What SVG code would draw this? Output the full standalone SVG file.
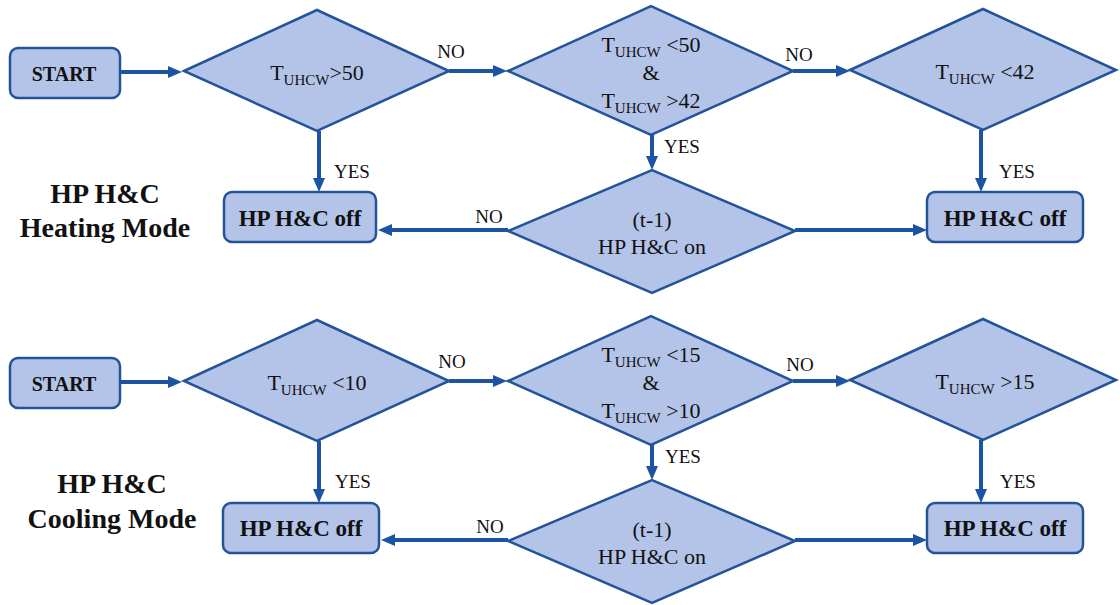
<svg xmlns="http://www.w3.org/2000/svg" width="1120" height="605" viewBox="0 0 1120 605">
  <defs>
    <marker id="arrow" markerUnits="userSpaceOnUse" markerWidth="14" markerHeight="12" refX="4" refY="6" orient="auto">
      <path d="M0,0 L14,6 L0,12 z" fill="#1c54a3"/>
    </marker>
    <style>
      .shape { fill: #b4c4e8; stroke: #23549a; stroke-width: 2.5; }
      .edge { fill: none; stroke: #1c54a3; stroke-width: 4; marker-end: url(#arrow); }
      .cond { font-family: "Liberation Serif", serif; font-size: 22px; text-anchor: middle; fill: #111; }
      .sub { font-size: 15px; }
      .box { font-family: "Liberation Serif", serif; font-size: 23px; font-weight: bold; text-anchor: middle; fill: #111; }
      .start { font-family: "Liberation Serif", serif; font-size: 20px; font-weight: bold; text-anchor: middle; fill: #111; }
      .title { font-family: "Liberation Serif", serif; font-size: 28px; font-weight: bold; text-anchor: middle; fill: #111; }
      .lbl { font-family: "Liberation Serif", serif; font-size: 19px; fill: #111; }
      .mid { text-anchor: middle; }
    </style>
  </defs>

  <!-- Heating mode -->
  <g id="heating-title">
    <text class="title" x="105" y="203">HP H&amp;C</text>
    <text class="title" x="105" y="237">Heating Mode</text>
  </g>
  <g id="h-start">
    <rect class="shape" x="10" y="48" width="110" height="50" rx="8"/>
    <text class="start" x="64" y="81">START</text>
  </g>
  <g id="h-check-high">
    <polygon class="shape" points="184,71 317,10 449,71 317,131"/>
    <text class="cond" x="317" y="80">T<tspan class="sub" dy="5">UHCW</tspan><tspan dy="-5">&gt;50</tspan></text>
  </g>
  <g id="h-check-band">
    <polygon class="shape" points="508,71 651,6 793,71 651,135"/>
    <text class="cond" x="651" y="52">T<tspan class="sub" dy="5">UHCW</tspan><tspan dy="-5"> &lt;50</tspan></text>
    <text class="cond" x="651" y="80">&amp;</text>
    <text class="cond" x="651" y="108">T<tspan class="sub" dy="5">UHCW</tspan><tspan dy="-5"> &gt;42</tspan></text>
  </g>
  <g id="h-check-low">
    <polygon class="shape" points="850,70 983,9 1116,70 983,130"/>
    <text class="cond" x="985" y="79">T<tspan class="sub" dy="5">UHCW</tspan><tspan dy="-5"> &lt;42</tspan></text>
  </g>
  <g id="h-prev-state">
    <polygon class="shape" points="508,231 652,170 795,231 652,293"/>
    <text class="cond" x="652" y="227">(t-1)</text>
    <text class="cond" x="652" y="254">HP H&amp;C on</text>
  </g>
  <g id="h-off-left">
    <rect class="shape" x="224" y="192" width="152" height="50" rx="8"/>
    <text class="box" x="300" y="226">HP H&amp;C off</text>
  </g>
  <g id="h-off-right">
    <rect class="shape" x="927" y="192" width="156" height="50" rx="8"/>
    <text class="box" x="1005" y="226">HP H&amp;C off</text>
  </g>

  <!-- Cooling mode -->
  <g id="cooling-title">
    <text class="title" x="112" y="493">HP H&amp;C</text>
    <text class="title" x="112" y="528">Cooling Mode</text>
  </g>
  <g id="c-start">
    <rect class="shape" x="10" y="358" width="110" height="50" rx="8"/>
    <text class="start" x="64" y="391">START</text>
  </g>
  <g id="c-check-low">
    <polygon class="shape" points="184,381 317,320 449,381 317,441"/>
    <text class="cond" x="317" y="390">T<tspan class="sub" dy="5">UHCW</tspan><tspan dy="-5"> &lt;10</tspan></text>
  </g>
  <g id="c-check-band">
    <polygon class="shape" points="508,381 651,316 793,381 651,445"/>
    <text class="cond" x="651" y="362">T<tspan class="sub" dy="5">UHCW</tspan><tspan dy="-5"> &lt;15</tspan></text>
    <text class="cond" x="651" y="390">&amp;</text>
    <text class="cond" x="651" y="418">T<tspan class="sub" dy="5">UHCW</tspan><tspan dy="-5"> &gt;10</tspan></text>
  </g>
  <g id="c-check-high">
    <polygon class="shape" points="850,380 983,319 1116,380 983,440"/>
    <text class="cond" x="985" y="389">T<tspan class="sub" dy="5">UHCW</tspan><tspan dy="-5"> &gt;15</tspan></text>
  </g>
  <g id="c-prev-state">
    <polygon class="shape" points="508,541 652,480 795,541 652,603"/>
    <text class="cond" x="652" y="537">(t-1)</text>
    <text class="cond" x="652" y="564">HP H&amp;C on</text>
  </g>
  <g id="c-off-left">
    <rect class="shape" x="223" y="503" width="156" height="50" rx="8"/>
    <text class="box" x="301" y="536">HP H&amp;C off</text>
  </g>
  <g id="c-off-right">
    <rect class="shape" x="927" y="503" width="156" height="50" rx="8"/>
    <text class="box" x="1005" y="536">HP H&amp;C off</text>
  </g>

  <!-- Connectors -->
  <g id="connectors">
    <path class="edge" d="M120,72 H172"/>
    <path class="edge" d="M449,71 H497"/>
    <path class="edge" d="M793,71 H840"/>
    <path class="edge" d="M319,131 V182"/>
    <path class="edge" d="M652,135 V160"/>
    <path class="edge" d="M981,130 V182"/>
    <path class="edge" d="M508,230 H388"/>
    <path class="edge" d="M795,230 H917"/>

    <path class="edge" d="M120,382 H172"/>
    <path class="edge" d="M449,381 H497"/>
    <path class="edge" d="M793,381 H840"/>
    <path class="edge" d="M319,441 V493"/>
    <path class="edge" d="M652,445 V470"/>
    <path class="edge" d="M981,440 V493"/>
    <path class="edge" d="M508,540 H391"/>
    <path class="edge" d="M795,540 H917"/>
  </g>

  <!-- Connector labels -->
  <g id="edge-labels">
    <text class="lbl mid" x="451" y="58">NO</text>
    <text class="lbl mid" x="799" y="61">NO</text>
    <text class="lbl" x="334" y="178">YES</text>
    <text class="lbl" x="664" y="153">YES</text>
    <text class="lbl" x="999" y="178">YES</text>
    <text class="lbl mid" x="489" y="223">NO</text>

    <text class="lbl mid" x="452" y="368">NO</text>
    <text class="lbl mid" x="800" y="371">NO</text>
    <text class="lbl" x="335" y="488">YES</text>
    <text class="lbl" x="665" y="463">YES</text>
    <text class="lbl" x="1000" y="488">YES</text>
    <text class="lbl mid" x="490" y="533">NO</text>
  </g>
</svg>
